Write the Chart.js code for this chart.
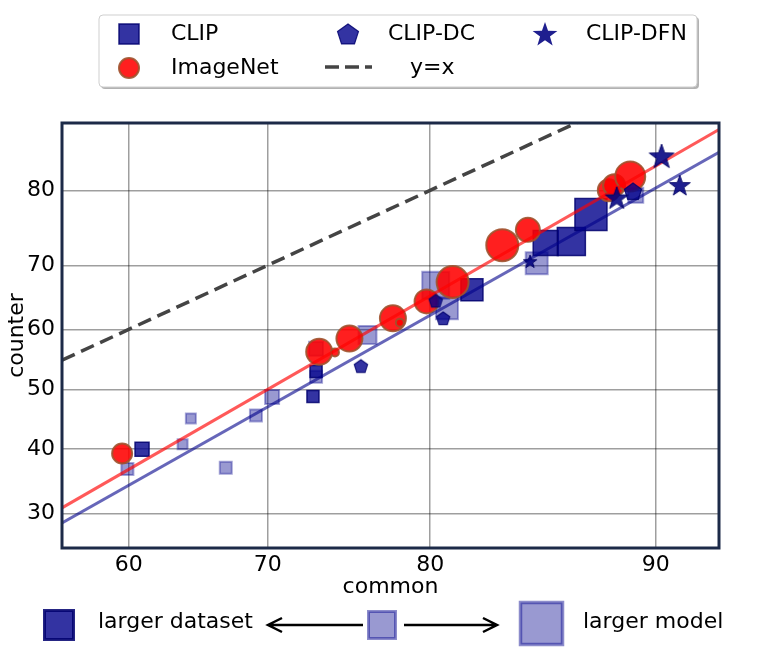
<!DOCTYPE html>
<html>
<head>
<meta charset="utf-8">
<script src="https://cdn.jsdelivr.net/npm/chart.js@4.4.1/dist/chart.umd.min.js"></script>
<style>
  html, body { margin: 0; padding: 0; background: #fff; }
</style>
</head>
<body>
<canvas id="chart" width="764" height="658"></canvas>
<script>
// accuracy in percent: common (x) vs counter (y), both on a probit axis
const xTicks = [60, 70, 80, 90];
const yTicks = [30, 40, 50, 60, 70, 80];
const xRange = [54.9, 92.0];
const yRange = [25.1, 87.0];

// CLIP, larger dataset (dark) / smaller dataset (light)
const clipDarkX = [61.0, 73.0, 73.2, 82.2, 85.7, 86.8, 87.6];
const clipDarkY = [40.0, 48.8, 53.0, 66.3, 73.2, 73.4, 77.0];
const clipDarkSize = [14, 12, 12, 22, 25, 28, 32];

const clipLightX = [59.9, 64.0, 64.6, 67.1, 69.2, 70.3, 73.2, 73.2, 76.4, 80.3, 80.9, 85.3, 89.3];
const clipLightY = [36.8, 40.8, 45.1, 37.0, 45.6, 48.7, 52.1, 56.8, 59.1, 67.0, 63.4, 70.3, 79.4];
const clipLightSize = [12, 10, 10, 12, 12, 14, 12, 14, 18, 27, 22, 22, 15];

const dcX = [76.0, 80.3, 80.7, 89.2];
const dcY = [53.8, 64.5, 61.7, 79.8];
const dcSize = [7, 7, 7, 9];

const dfnX = [85.0, 88.6, 90.2, 90.8];
const dfnY = [70.5, 79.0, 83.7, 80.5];
const dfnSize = [7, 12, 13, 11];

const imagenetX = [59.5, 73.4, 74.4, 75.3, 77.9, 78.3, 79.8, 81.2, 83.7, 84.9, 88.3, 88.5, 89.1];
const imagenetY = [39.3, 56.3, 56.2, 58.5, 61.8, 61.1, 64.5, 67.5, 72.9, 75.0, 80.0, 80.6, 81.6];
const imagenetSize = [10, 13, 4, 13, 13, 4, 12, 16, 16, 12, 11, 11, 15];

// fitted lines (end points)
const fitX = [54.9, 92.0];
const imagenetFitY = [30.8, 86.4];
const clipFitY = [28.6, 84.2];
const identityXY = [54.9, 92.0];

// inverse normal cdf (Acklam)
function probit(p) {
  const a = [-3.969683028665376e+01, 2.209460984245205e+02, -2.759285104469687e+02, 1.383577518672690e+02, -3.066479806614716e+01, 2.506628277459239e+00];
  const b = [-5.447609879822406e+01, 1.615858368580409e+02, -1.556989798598866e+02, 6.680131188771972e+01, -1.328068155288572e+01];
  const c = [-7.784894002430293e-03, -3.223964580411365e-01, -2.400758277161838e+00, -2.549671010243787e+00, 4.374664141464968e+00, 2.938163982698783e+00];
  const d = [7.784695709041462e-03, 3.224671290700398e-01, 2.445134137142996e+00, 3.754408661907416e+00];
  const lo = 0.02425;
  if (p < lo) {
    const q = Math.sqrt(-2 * Math.log(p));
    return (((((c[0]*q+c[1])*q+c[2])*q+c[3])*q+c[4])*q+c[5]) / ((((d[0]*q+d[1])*q+d[2])*q+d[3])*q+1);
  }
  if (p > 1 - lo) {
    const q = Math.sqrt(-2 * Math.log(1 - p));
    return -(((((c[0]*q+c[1])*q+c[2])*q+c[3])*q+c[4])*q+c[5]) / ((((d[0]*q+d[1])*q+d[2])*q+d[3])*q+1);
  }
  const q = p - 0.5, r = q * q;
  return (((((a[0]*r+a[1])*r+a[2])*r+a[3])*r+a[4])*r+a[5])*q / (((((b[0]*r+b[1])*r+b[2])*r+b[3])*r+b[4])*r+1);
}
const pr = v => probit(v / 100);
const pts = (xs, ys) => xs.map((x, i) => ({ x: pr(x), y: pr(ys[i]) }));

const DARK_FILL = 'rgba(0,0,139,0.8)';
const DARK_EDGE = 'rgba(0,0,110,0.85)';
const LIGHT_FILL = 'rgba(0,0,139,0.4)';
const LIGHT_EDGE = 'rgba(0,0,139,0.35)';
const RED_FILL = 'rgba(255,0,0,0.88)';
const RED_EDGE = 'rgba(160,82,45,0.9)';
const STAR_FILL = 'rgba(0,0,128,0.88)';

// pentagon / star markers drawn into small canvases
function markerCanvas(kind, r, fill, edge, lw) {
  const pad = Math.ceil(lw) + 1;
  const cv = document.createElement('canvas');
  cv.width = cv.height = Math.ceil(2 * (r + pad));
  const g = cv.getContext('2d');
  traceShape(g, kind, cv.width / 2, cv.height / 2, r);
  g.fillStyle = fill; g.fill();
  g.lineWidth = lw; g.strokeStyle = edge; g.stroke();
  return cv;
}
function traceShape(g, kind, cx, cy, r) {
  const n = kind === 'star' ? 10 : 5;
  g.beginPath();
  for (let i = 0; i < n; i++) {
    const a = -Math.PI / 2 + i * 2 * Math.PI / n;
    const rr = (kind === 'star' && i % 2) ? r * 0.4 : r;
    const px = cx + rr * Math.cos(a), py = cy + rr * Math.sin(a);
    if (i) g.lineTo(px, py); else g.moveTo(px, py);
  }
  g.closePath();
}

const dcMarkers = dcSize.map(s => markerCanvas('pentagon', s, DARK_FILL, DARK_EDGE, 1.2));
const dfnMarkers = dfnSize.map(s => markerCanvas('star', s, STAR_FILL, 'rgba(0,0,100,0.9)', 1));

const frameAndNotes = {
  id: 'frameAndNotes',
  afterDatasetsDraw(chart) {
    const { ctx, chartArea: a } = chart;
    ctx.save();
    ctx.strokeStyle = '#1c2a48';
    ctx.lineWidth = 3;
    ctx.strokeRect(a.left, a.top, a.right - a.left, a.bottom - a.top);
    ctx.restore();
  },
  afterDraw(chart) {
    const ctx = chart.ctx;
    ctx.save();
    ctx.font = '22px "DejaVu Sans"';
    ctx.textBaseline = 'middle';
    ctx.fillStyle = '#000';

    // legend box with shadow
    const roundRect = (x, y, w, h, r) => {
      ctx.beginPath();
      ctx.moveTo(x + r, y);
      ctx.arcTo(x + w, y, x + w, y + h, r);
      ctx.arcTo(x + w, y + h, x, y + h, r);
      ctx.arcTo(x, y + h, x, y, r);
      ctx.arcTo(x, y, x + w, y, r);
      ctx.closePath();
    };
    ctx.fillStyle = 'rgba(0,0,0,0.3)';
    roundRect(101, 17, 598, 72, 4); ctx.fill();
    ctx.fillStyle = '#fff';
    ctx.strokeStyle = '#cfcfcf';
    ctx.lineWidth = 1;
    roundRect(99, 15, 598, 72, 4); ctx.fill(); ctx.stroke();

    const square = (cx, cy, s, fill, edge, lw) => {
      ctx.fillStyle = '#fff';
      ctx.fillRect(cx - s / 2, cy - s / 2, s, s);
      ctx.fillStyle = fill;
      ctx.fillRect(cx - s / 2, cy - s / 2, s, s);
      ctx.strokeStyle = edge; ctx.lineWidth = lw;
      ctx.strokeRect(cx - s / 2, cy - s / 2, s, s);
    };

    square(129, 34, 20, DARK_FILL, DARK_EDGE, 1.5);
    traceShape(ctx, 'pentagon', 348, 35, 11);
    ctx.fillStyle = DARK_FILL; ctx.fill();
    ctx.strokeStyle = DARK_EDGE; ctx.lineWidth = 1.2; ctx.stroke();
    traceShape(ctx, 'star', 545, 35, 13);
    ctx.fillStyle = STAR_FILL; ctx.fill();

    ctx.beginPath(); ctx.arc(129, 68, 10, 0, Math.PI * 2);
    ctx.fillStyle = RED_FILL; ctx.fill();
    ctx.strokeStyle = RED_EDGE; ctx.lineWidth = 2; ctx.stroke();

    ctx.beginPath();
    ctx.setLineDash([14, 6]);
    ctx.moveTo(325, 67); ctx.lineTo(372, 67);
    ctx.strokeStyle = '#444'; ctx.lineWidth = 3.5; ctx.stroke();
    ctx.setLineDash([]);

    ctx.fillStyle = '#000';
    ctx.fillText('CLIP', 171, 34);
    ctx.fillText('CLIP-DC', 388, 34);
    ctx.fillText('CLIP-DFN', 586, 34);
    ctx.fillText('ImageNet', 171, 68);
    ctx.fillText('y=x', 410, 68);

    // size / shade key below the axis
    square(59, 625, 29, DARK_FILL, DARK_EDGE, 3);
    square(382, 625, 27, LIGHT_FILL, 'rgba(0,0,139,0.45)', 3);
    square(541.5, 623.5, 42, LIGHT_FILL, 'rgba(0,0,139,0.45)', 3.5);
    ctx.fillStyle = '#000';
    ctx.fillText('larger dataset', 98, 622);
    ctx.fillText('larger model', 583, 622);

    const arrow = (x0, x1, y) => {
      const dir = Math.sign(x1 - x0);
      ctx.beginPath();
      ctx.moveTo(x0, y); ctx.lineTo(x1, y);
      ctx.moveTo(x1 - dir * 14, y - 7); ctx.lineTo(x1, y); ctx.lineTo(x1 - dir * 14, y + 7);
      ctx.strokeStyle = '#000'; ctx.lineWidth = 2.5; ctx.lineJoin = 'miter';
      ctx.stroke();
    };
    arrow(363, 268, 625);
    arrow(404, 497, 625);
    ctx.restore();
  }
};

Chart.defaults.font.family = '"DejaVu Sans", sans-serif';
Chart.defaults.color = '#000';

new Chart(document.getElementById('chart'), {
  type: 'scatter',
  data: {
    datasets: [
      {
        label: 'CLIP-DFN',
        data: pts(dfnX, dfnY),
        pointStyle: c => dfnMarkers[c.dataIndex],
        pointRadius: dfnSize,
        order: 1
      },
      {
        label: 'CLIP-DC',
        data: pts(dcX, dcY),
        pointStyle: c => dcMarkers[c.dataIndex],
        pointRadius: dcSize,
        order: 2
      },
      {
        label: 'ImageNet fit',
        data: pts(fitX, imagenetFitY),
        showLine: true,
        borderColor: 'rgba(255,0,0,0.65)',
        borderWidth: 3,
        pointRadius: 0,
        clip: 0,
        order: 3
      },
      {
        label: 'CLIP fit',
        data: pts(fitX, clipFitY),
        showLine: true,
        borderColor: 'rgba(0,0,139,0.6)',
        borderWidth: 3,
        pointRadius: 0,
        clip: 0,
        order: 3
      },
      {
        label: 'y=x',
        data: pts(identityXY, identityXY),
        showLine: true,
        borderColor: '#444444',
        borderWidth: 3.5,
        borderDash: [14, 7],
        pointRadius: 0,
        clip: 0,
        order: 3
      },
      {
        label: 'ImageNet',
        data: pts(imagenetX, imagenetY),
        pointStyle: 'circle',
        pointRadius: imagenetSize,
        backgroundColor: RED_FILL,
        borderColor: RED_EDGE,
        borderWidth: 2,
        order: 4
      },
      {
        label: 'CLIP',
        data: pts(clipDarkX, clipDarkY),
        pointStyle: 'rect',
        pointRadius: clipDarkSize.map(s => s / Math.SQRT2),
        backgroundColor: DARK_FILL,
        borderColor: DARK_EDGE,
        borderWidth: 1.5,
        order: 5
      },
      {
        label: 'CLIP (smaller data)',
        data: pts(clipLightX, clipLightY),
        pointStyle: 'rect',
        pointRadius: clipLightSize.map(s => s / Math.SQRT2),
        backgroundColor: LIGHT_FILL,
        borderColor: LIGHT_EDGE,
        borderWidth: 2,
        order: 6
      }
    ]
  },
  options: {
    responsive: false,
    animation: false,
    events: [],
    layout: { padding: { top: 123, right: 45, bottom: 58, left: 6 } },
    plugins: { legend: { display: false }, tooltip: { enabled: false } },
    scales: {
      x: {
        type: 'linear',
        min: pr(xRange[0]),
        max: pr(xRange[1]),
        afterBuildTicks: s => { s.ticks = xTicks.map(v => ({ value: pr(v) })); },
        afterFit: s => { s.height = 52; },
        ticks: {
          autoSkip: false,
          maxRotation: 0,
          padding: 6,
          font: { size: 22, lineHeight: 1 },
          callback: (v, i) => String(xTicks[i])
        },
        grid: { color: 'rgba(0,0,0,0.38)', lineWidth: 1.5, drawTicks: false },
        border: { display: false },
        title: {
          display: true,
          text: 'common',
          font: { size: 22, lineHeight: 1 },
          padding: { top: 0, bottom: 2 }
        }
      },
      y: {
        type: 'linear',
        min: pr(yRange[0]),
        max: pr(yRange[1]),
        afterBuildTicks: s => { s.ticks = yTicks.map(v => ({ value: pr(v) })); },
        afterFit: s => { s.width = 56; },
        ticks: {
          autoSkip: false,
          padding: 7,
          font: { size: 22, lineHeight: 1 },
          callback: (v, i) => String(yTicks[i])
        },
        grid: { color: 'rgba(0,0,0,0.38)', lineWidth: 1.5, drawTicks: false },
        border: { display: false },
        title: {
          display: true,
          text: 'counter',
          font: { size: 22, lineHeight: 1 },
          padding: { top: 0, bottom: 0 }
        }
      }
    }
  },
  plugins: [frameAndNotes]
});
</script>
</body>
</html>
